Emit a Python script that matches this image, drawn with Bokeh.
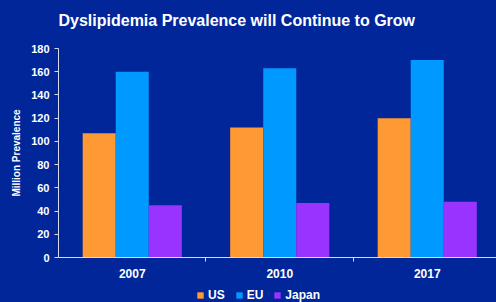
from bokeh.plotting import figure
from bokeh.layouts import column
from bokeh.models import Range1d, FixedTicker, Legend, LegendItem, ColumnDataSource, Label
from bokeh.embed import file_html
from bokeh.resources import INLINE

title_text = "Dyslipidemia Prevalence will Continue to Grow"
years = ["2007", "2010", "2017"]
us = [107, 112, 120]
eu = [160, 163, 170]
japan = [45, 47, 48]
series_names = ["US", "EU", "Japan"]
series_colors = ["#FF9933", "#0099FF", "#9933FF"]
y_ticks = [0, 20, 40, 60, 80, 100, 120, 140, 160, 180]

BG = "#002699"
AXIS = "#D8DCE8"
FONT = "Liberation Sans"


def strip(height):
    f = figure(width=496, height=height, output_backend="svg", toolbar_location=None,
               x_axis_type=None, y_axis_type=None, x_range=Range1d(0, 1), y_range=Range1d(0, 1),
               min_border_left=0, min_border_right=0, min_border_top=0, min_border_bottom=0)
    f.background_fill_color = BG
    f.border_fill_color = BG
    f.outline_line_color = None
    f.grid.visible = False
    return f


# title strip
tt = strip(34)
tt.add_layout(Label(x=0, y=14, x_units="screen", y_units="screen", text=title_text,
                    text_align="left", text_baseline="middle", text_font=FONT,
                    text_font_size="16px", text_font_style="bold", text_color="white"))

# main chart
p = figure(width=496, height=249, output_backend="svg", toolbar_location=None,
           x_range=Range1d(0, 2.9695), y_range=Range1d(0, 180),
           min_border_left=58, min_border_right=0, min_border_top=14, min_border_bottom=26)
p.background_fill_color = BG
p.border_fill_color = BG
p.outline_line_color = None
p.grid.visible = False

centers = [i + 0.5 for i in range(len(years))]
bw = 0.224
for k, (name, vals, col) in enumerate(zip(series_names, [us, eu, japan], series_colors)):
    src = ColumnDataSource(dict(x=[c + (k - 1) * bw for c in centers], top=vals))
    p.vbar(x="x", top="top", bottom=0, width=bw, source=src, fill_color=col, line_color=None)

# y axis
ya = p.yaxis[0]
ya.ticker = FixedTicker(ticks=y_ticks, minor_ticks=[])
ya.axis_line_color = AXIS
ya.major_tick_line_color = AXIS
ya.major_tick_out = 4
ya.major_tick_in = 0
ya.major_label_text_font = FONT
ya.major_label_text_font_size = "11px"
ya.major_label_text_font_style = "bold"
ya.major_label_text_color = "white"
ya.major_label_standoff = 5
ya.axis_label = "Million Prevalence"
ya.axis_label_text_font = FONT
ya.axis_label_text_font_size = "10px"
ya.axis_label_text_font_style = "bold"
ya.axis_label_text_color = "white"
ya.axis_label_standoff = 6

# x axis
xa = p.xaxis[0]
xa.ticker = FixedTicker(ticks=centers, minor_ticks=[1, 2])
xa.major_label_overrides = {c: y for c, y in zip(centers, years)}
xa.axis_line_color = AXIS
xa.major_tick_line_color = None
xa.major_tick_out = 0
xa.major_tick_in = 0
xa.minor_tick_line_color = AXIS
xa.minor_tick_out = 4
xa.minor_tick_in = 0
xa.major_label_text_font = FONT
xa.major_label_text_font_size = "12px"
xa.major_label_text_font_style = "bold"
xa.major_label_text_color = "white"
xa.major_label_standoff = 7

# legend strip below the chart (zero-size proxy renderers carry the swatch colours)
lg = strip(19)
items = []
for name, col in zip(series_names, series_colors):
    r = lg.vbar(x=[0], top=[0], bottom=[0], width=0, fill_color=col, line_color=None)
    items.append(LegendItem(label=name, renderers=[r]))
legend = Legend(items=items, orientation="horizontal", location=(138, 0),
                glyph_width=8, glyph_height=8, label_standoff=4, spacing=10,
                label_width=0, padding=0, margin=0, border_line_color=None,
                background_fill_alpha=0,
                label_text_font=FONT, label_text_font_size="12px",
                label_text_font_style="bold", label_text_color="white")
lg.add_layout(legend, "center")

layout = column(tt, p, lg, spacing=0)

html = file_html(layout, INLINE, title="chart")
html = html.replace("<head>", "<head><style>html,body{background:" + BG + ";}</style>", 1)
open("out.html", "w").write(html)
